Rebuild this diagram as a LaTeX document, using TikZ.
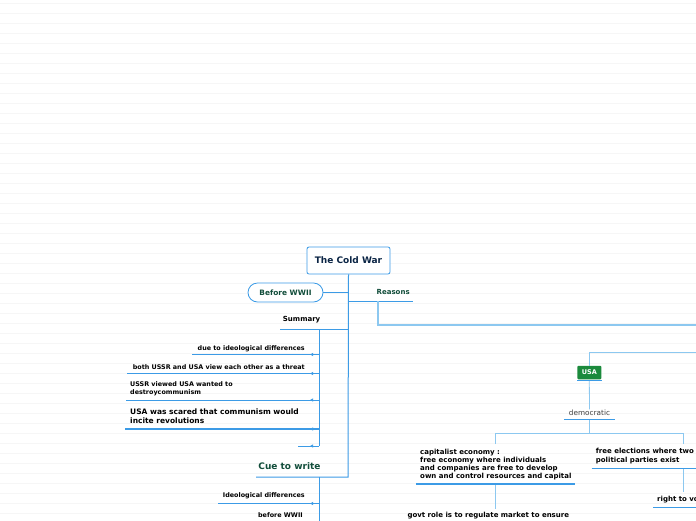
\documentclass[tikz,border=0pt]{standalone}
\usepackage{fontspec}
\setmainfont{DejaVu Sans}
\usepackage{xcolor}
\usetikzlibrary{
    arrows.meta,
    positioning,
    decorations.markings
}
\definecolor{mmblue}{HTML}{3C9BE6}
\definecolor{mmlight}{HTML}{8CC8F0}
\definecolor{mmgreen}{HTML}{1B8A3C}
\definecolor{mmdark}{HTML}{114D3A}
\definecolor{mmnavy}{HTML}{0B2545}
\definecolor{ruled}{HTML}{F6F6F6}

\begin{document}
\begin{tikzpicture}[
    x=1pt, y=-1pt,
    every node/.style={
        inner sep=0pt,
        font=\fontsize{6.4}{8}\selectfont\bfseries
    },
    big/.style={font=\fontsize{7}{8}\selectfont\bfseries},
    title/.style={
        draw=mmblue, rounded corners=2pt, line width=0.8pt, fill=white,
        minimum width=83pt, minimum height=27pt, text=mmnavy,
        font=\fontsize{9}{10}\selectfont\bfseries
    },
    pill/.style={
        draw=mmblue, rounded corners=9.5pt, line width=0.8pt, fill=white,
        minimum width=75pt, minimum height=19pt, text=mmdark,
        font=\fontsize{7.4}{8}\selectfont\bfseries
    },
    topic/.style={text=mmdark},
    leaf/.style={align=left},
    spine/.style={draw=mmblue, line width=1pt},
    soft/.style={draw=mmlight, line width=1.8pt},
    thinline/.style={draw=mmlight, line width=0.8pt},
    leafline/.style={
        draw=mmblue, line width=0.8pt,
        postaction={decorate},
        decoration={markings,
            mark=at position 9pt with {\arrow{Latex[length=3pt,width=3.5pt]}}}
    }
]

% page and ruled background
\clip (0,0) rectangle (696,520);
\fill[white] (0,0) rectangle (696,520);
\foreach \ry in {3.3,13.3,...,520}
    \draw[ruled, line width=0.7pt] (0,\ry) -- (696,\ry);

% central topic
\node[title] (cold) at (348.5,260.5) {The Cold War};
\node[pill] (before) at (285.5,292.5) {Before WWII};
\node[topic, big, anchor=west] (reasons) at (376.5,291.5) {Reasons};
\node[big, anchor=east] (summary) at (320.5,319.5) {Summary};
\node[topic, font=\fontsize{9}{10}\selectfont\bfseries] (cue) at (289.5,466.5) {Cue to write};

\coordinate (hubB) at (348,292.5);
\coordinate (hubR) at (348,301);
\coordinate (reasEnd) at (413,301);
\coordinate (reasDrop) at (378,301);
\coordinate (reasTurn) at (378,325);
\coordinate (reasOut) at (700,325);
\coordinate (hubS) at (348,329);
\coordinate (sumEnd) at (280,329);
\coordinate (sumTop) at (319,329);
\coordinate (sumBot) at (319,446);
\coordinate (hubC) at (348,477);
\coordinate (cueEnd) at (256,477);
\coordinate (cueTop) at (319,477);
\coordinate (cueBot) at (319,530);

\draw[spine] (cold.south) -- (hubC) -- (cueEnd);
\draw[spine] (before.east) -- (hubB);
\draw[spine] (hubR) -- (reasEnd);
\draw[soft] (reasDrop) -- (reasTurn) -- (reasOut);
\draw[spine] (hubS) -- (sumEnd);
\draw[spine] (sumTop) -- (sumBot);
\draw[spine] (cueTop) -- (cueBot);

% summary leaves
\node[anchor=east] (s1) at (305,348.5) {due to ideological differences};
\node[anchor=east] (s2) at (305,367) {both USSR and USA view each other as a threat};
\node[leaf, anchor=west] (s3) at (130,389) {USSR viewed USA wanted to\\destroycommunism};
\node[leaf, anchor=west, font=\fontsize{7.5}{9}\selectfont\bfseries] (s4) at (130,416.5)
    {USA was scared that communism would\\incite revolutions};

\draw[leafline] (319,354.5) -- (192,354.5);
\draw[leafline] (319,373.5) -- (127,373.5);
\draw[leafline] (319,400) -- (126,400);
\draw[leafline, line width=1.5pt] (319,429) -- (125,429);
\draw[leafline] (sumBot) -- (298,446);

% cue leaves
\node[anchor=east] (c1) at (305,496) {Ideological differences};
\node[anchor=east] (c2) at (303,515.5) {before WWII};
\draw[leafline] (319,503.5) -- (218,503.5);
\draw[leafline] (319,524) -- (230,524);

% USA branch
\node[fill=mmgreen, text=white, rounded corners=1pt, minimum width=24pt,
    minimum height=13.5pt, font=\fontsize{6.5}{8}\selectfont\bfseries] (usa) at (589.3,372.5) {USA};
\node[font=\fontsize{7.3}{8}\selectfont, text=black!75] (dem) at (589.5,412.5) {democratic};
\node[leaf, big, anchor=west] (cap) at (420,464.2)
    {capitalist economy :\\free economy where individuals\\and companies are free to develop\\own and control resources and capital};
\node[big, anchor=west] (govt) at (407.3,516) {govt role is to regulate market to ensure};
\node[leaf, anchor=west, font=\fontsize{7}{9}\selectfont\bfseries] (elect) at (595.7,456.5)
    {free elections where two\\political parties exist};
\node[big, anchor=west] (vote) at (657,500) {right to vote};

\coordinate (usaIn) at (589.3,352.3);
\coordinate (usaOut) at (700,352.3);
\coordinate (demSplit) at (589.3,433.5);
\coordinate (capIn) at (495.7,433.5);
\coordinate (electIn) at (683.3,433.5);

\draw[thinline] (usaOut) -- (usaIn) -- (usa.north);
\draw[spine] (577,380.5) -- (602,380.5);
\draw[thinline] (589.3,381) -- (dem.north);
\draw[spine] (564,419.5) -- (615,419.5);
\draw[thinline] (589.3,420) -- (demSplit);
\draw[thinline] (capIn |- 444,444) -- (capIn) -- (electIn) -- (electIn |- 444,444);
\draw[spine, line width=1.2pt] (416,484) -- (575.3,484);
\draw[thinline] (495.7,485) -- (495.7,508.5);
\draw[spine, line width=1.2pt] (591.7,468.3) -- (700,468.3);
\draw[thinline] (683.3,469) -- (683.3,491.7);
\draw[spine, line width=1.2pt] (653.3,507.7) -- (700,507.7);

\end{tikzpicture}
\end{document}
